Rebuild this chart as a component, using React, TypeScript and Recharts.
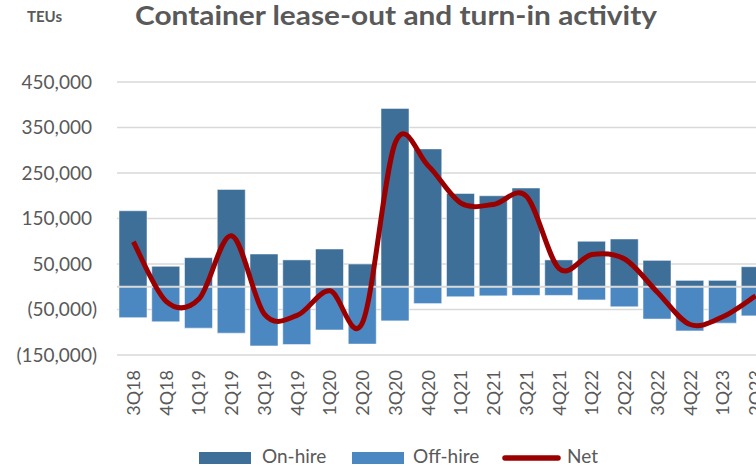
import React from 'react';
import { ComposedChart, Bar, Line, XAxis, YAxis, CartesianGrid, ReferenceLine, Legend } from 'recharts';

const quarters = ['3Q18', '4Q18', '1Q19', '2Q19', '3Q19', '4Q19', '1Q20', '2Q20', '3Q20', '4Q20', '1Q21', '2Q21', '3Q21', '4Q21', '1Q22', '2Q22', '3Q22', '4Q22', '1Q23', '2Q23'];
const onHire = [167000, 45000, 64000, 214000, 72000, 59000, 83000, 50000, 392000, 303000, 205000, 200000, 217000, 59000, 100000, 105000, 58000, 14000, 14000, 44000];
const offHire = [-68000, -77000, -91000, -102000, -130000, -127000, -95000, -126000, -75000, -37000, -22000, -20000, -19000, -19000, -29000, -44000, -71000, -97000, -80000, -64000];
const net = [99000, -32000, -27000, 112000, -60000, -63000, -9000, -78000, 317000, 266000, 184000, 181000, 199000, 40000, 71000, 61000, -12000, -83000, -66000, -20000];
const yTicks = [-150000, -50000, 50000, 150000, 250000, 350000, 450000];

const data = quarters.map((q, i) => ({ q, on: onHire[i], off: offHire[i], net: net[i] }));

const FONT = 'Lato, "Open Sans", sans-serif';
const TXT = '#595959';

const fmt = (v: number) => {
  const s = String(Math.abs(v)).replace(/\B(?=(\d{3})+(?!\d))/g, ',');
  return v < 0 ? `(${s})` : s;
};

// Excel-style smoothed line (Catmull-Rom with 1/6 control points)
const excelCurve = (context: any) => {
  let pts: [number, number][] = [];
  return {
    areaStart() {},
    areaEnd() {},
    lineStart() {
      pts = [];
    },
    point(x: number, y: number) {
      pts.push([+x, +y]);
    },
    lineEnd() {
      const n = pts.length;
      if (!n) return;
      context.moveTo(pts[0][0], pts[0][1]);
      for (let i = 0; i < n - 1; i++) {
        const p0 = pts[Math.max(i - 1, 0)];
        const p1 = pts[i];
        const p2 = pts[i + 1];
        const p3 = pts[Math.min(i + 2, n - 1)];
        context.bezierCurveTo(
          p1[0] + (p2[0] - p0[0]) / 6,
          p1[1] + (p2[1] - p0[1]) / 6,
          p2[0] - (p3[0] - p1[0]) / 6,
          p2[1] - (p3[1] - p1[1]) / 6,
          p2[0],
          p2[1]
        );
      }
    },
  };
};

const YTick = (props: any) => {
  const { y, payload } = props;
  const v = payload.value as number;
  return (
    <text x={v < 0 ? 97 : 92} y={y} dy="0.35em" textAnchor="end" fill={TXT} fontFamily={FONT} fontSize={19}>
      {fmt(v)}
    </text>
  );
};

const XTick = (props: any) => {
  const { x, y, payload } = props;
  const ty = y + 7;
  return (
    <text transform={`rotate(-90 ${x} ${ty})`} x={x} y={ty} dy="0.36em" textAnchor="end" fill={TXT} fontFamily={FONT} fontSize={18}>
      {payload.value}
    </text>
  );
};

const LegendContent = (props: any) => {
  const payload = props.payload || [];
  const layout: Record<string, { sx: number; tx: number }> = {
    'On-hire': { sx: 199, tx: 262 },
    'Off-hire': { sx: 352, tx: 413 },
    Net: { sx: 503, tx: 567 },
  };
  return (
    <svg width={756} height={22} style={{ display: 'block' }}>
      {payload.map((p: any) => {
        const l = layout[p.value];
        if (!l) return null;
        return (
          <g key={p.value}>
            {p.type === 'line' ? (
              <line x1={l.sx + 2} x2={l.sx + 55} y1={13} y2={13} stroke={p.color} strokeWidth={5.5} strokeLinecap="round" />
            ) : (
              <rect x={l.sx} y={7} width={52} height={12} fill={p.color} />
            )}
            <text x={l.tx} y={18} fill={TXT} fontFamily={FONT} fontSize={19}>
              {p.value}
            </text>
          </g>
        );
      })}
    </svg>
  );
};

export default function App() {
  return (
    <div style={{ position: 'fixed', left: 0, top: 0, width: 756, height: 467, overflow: 'hidden', background: '#fff' }}>
      <svg width={756} height={40} style={{ position: 'absolute', left: 0, top: 0, zIndex: 2 }}>
        <text x={27} y={22} fill={TXT} fontFamily={FONT} fontWeight="bold" fontSize={15}>
          TEUs
        </text>
        <text x={135} y={25} fill={TXT} fontFamily={FONT} fontWeight="bold" fontSize={27} textLength={522} lengthAdjust="spacingAndGlyphs">
          Container lease-out and turn-in activity
        </text>
      </svg>
      <ComposedChart
        width={772}
        height={467}
        data={data}
        stackOffset="sign"
        margin={{ top: 82, right: 0, bottom: 0, left: 0 }}
      >
        <CartesianGrid horizontal vertical={false} stroke="#D9D9D9" strokeWidth={1.5} />
        <XAxis dataKey="q" interval={0} height={112} axisLine={false} tickLine={false} tick={<XTick />} />
        <YAxis
          domain={[-150000, 450000]}
          ticks={yTicks}
          interval={0}
          width={117}
          axisLine={false}
          tickLine={false}
          tick={<YTick />}
        />
        <Bar dataKey="on" name="On-hire" stackId="s" fill="#3E6F99" stroke="#ffffff" strokeOpacity={0.5} strokeWidth={1} barSize={28} isAnimationActive={false} />
        <Bar dataKey="off" name="Off-hire" stackId="s" fill="#4B87C0" stroke="#ffffff" strokeOpacity={0.5} strokeWidth={1} barSize={28} isAnimationActive={false} />
        <ReferenceLine y={0} stroke="#D9D9D9" strokeWidth={2} />
        <Line dataKey="net" name="Net" type={excelCurve as any} stroke="#9B0000" strokeWidth={5} dot={false} activeDot={false} strokeLinejoin="round" legendType="line" isAnimationActive={false} />
        <Legend
          layout="horizontal"
          verticalAlign="middle"
          align="center"
          content={<LegendContent />}
          wrapperStyle={{ top: 445, left: 0, width: 756, height: 22 }}
        />
      </ComposedChart>
    </div>
  );
}
